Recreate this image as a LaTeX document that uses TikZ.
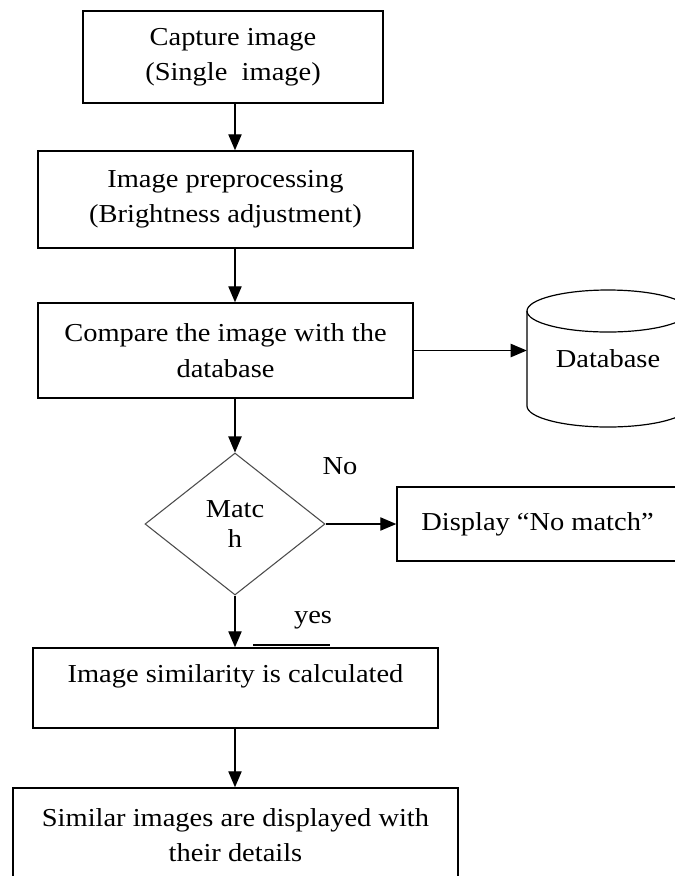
\documentclass[tikz,border=0pt]{standalone}
\usepackage{fontspec}
\setmainfont{Liberation Serif}[FakeStretch=1.1]
\usetikzlibrary{shapes.geometric,arrows.meta,calc}
\newcommand{\boxfont}{\fontsize{19.4pt}{26.5pt}\selectfont}
\newcommand{\dmfont}{\fontsize{19.4pt}{22.5pt}\selectfont}
\tikzset{
  procbox/.style={draw=black, line width=1.1pt, rectangle, inner sep=0pt, align=center, font=\boxfont},
  decision/.style={diamond, draw=black!70, line width=0.8pt, inner sep=0pt, aspect=1.27, align=center, font=\dmfont},
  plain/.style={inner sep=0pt, font=\boxfont},
  arr/.style={line width=0.9pt, -{Triangle[length=12pt,width=10pt]}},
}
\begin{document}
\begin{tikzpicture}[x=0.75pt,y=-0.75pt]
\fill[white] (0,0) rectangle (675,876);
\clip (0,0) rectangle (675,876);

% process boxes
\node[procbox, minimum width=225pt, minimum height=69pt] (b1) at (233,57) {Capture image\\(Single\ \ image)};
\node[procbox, minimum width=281.25pt, minimum height=72.75pt] (b2) at (225.5,199.5) {Image preprocessing\\(Brightness adjustment)};
\node[procbox, minimum width=281.25pt, minimum height=71.25pt] (b3) at (225.5,350.5) {Compare the image with the\\database};

% database cylinder
\node[plain, minimum width=121.5pt, minimum height=102.75pt] (db) at (608,358.5) {Database};
\draw[line width=0.9pt] (608,311) ellipse [x radius=60.75pt, y radius=15.75pt];
\draw[line width=0.9pt] (527,311) -- (527,406)
  .. controls (527,417.6) and (563.3,427) .. (608,427)
  .. controls (652.7,427) and (689,417.6) .. (689,406) -- (689,311);

% decision
\node[decision, minimum width=135pt, minimum height=106.5pt] (dm) at (235,524) {Matc\\h};
\node[procbox, minimum width=210.75pt, minimum height=55.5pt] (disp) at (537.5,524) {Display “No match”};
\node[plain] (no) at (340,466) {No};
\node[plain] (yes) at (313,620) {yes};
\draw[line width=1.6pt] (253,645) -- (330,645);

% lower boxes
\node[procbox, minimum width=303.75pt, minimum height=60pt, text depth=22pt] (b5) at (235.5,688) {Image similarity is calculated};
\node[procbox, minimum width=333.75pt, minimum height=70.5pt] (b6) at (235.5,835) {Similar images are displayed with\\their details};

% connectors
\draw[arr] (dm.north |- b1.south) -- (dm.north |- b2.north);
\draw[arr] (dm.north |- b2.south) -- (dm.north |- b3.north);
\draw[arr] (dm.north |- b3.south) -- (dm.north);
\draw[arr] (b3.east) -- (b3.east -| db.west);
\draw[arr] (dm.east) -- (dm.east -| disp.west);
\draw[arr] (dm.south) -- (dm.south |- b5.north);
\draw[arr] (dm.south |- b5.south) -- (dm.south |- b6.north);
\end{tikzpicture}
\end{document}
